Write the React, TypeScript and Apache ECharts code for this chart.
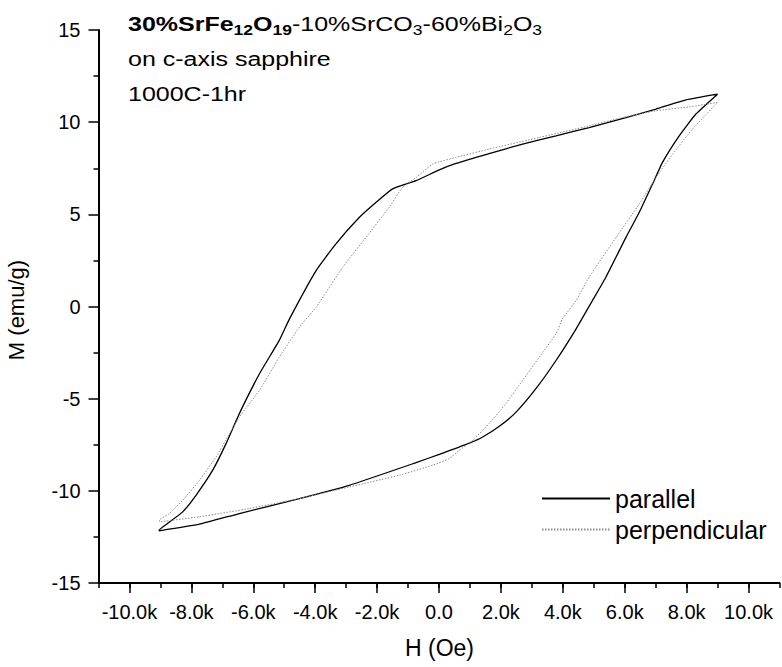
import React, { useEffect, useRef } from "react";
import * as echarts from "echarts";

// Parallel (solid) loop: descending branch (+9 kOe -> -9 kOe)
const parDescH = [9000, 7980, 7010, 6040, 4850, 3780, 2700, 1620, 550, 10, -740, -1500, -2030, -2570, -3330, -3970, -4830, -5160, -5800, -6450, -6880, -7310, -7850, -8280, -8770, -9040];
const parDescM = [11.52, 11.21, 10.71, 10.25, 9.71, 9.26, 8.81, 8.3, 7.76, 7.41, 6.83, 6.38, 5.65, 4.84, 3.4, 1.95, -0.67, -1.84, -3.65, -5.81, -7.44, -8.88, -10.24, -11.14, -11.77, -12.13];
// Parallel ascending branch (-9 kOe -> +9 kOe)
const parAscH = [-9040, -7740, -6450, -4510, -2900, -740, 10, 980, 1410, 1950, 2490, 3130, 3780, 4430, 4960, 5390, 6040, 6470, 6900, 7220, 7760, 8300, 9000];
const parAscM = [-12.17, -11.81, -11.23, -10.42, -9.7, -8.47, -8.02, -7.41, -7.08, -6.5, -5.73, -4.46, -2.93, -1.21, 0.33, 1.59, 3.75, 5.11, 6.65, 7.82, 9.26, 10.44, 11.52];

// Perpendicular (dotted) loop
const perpDescH = [9000, 8080, 7010, 5930, 4850, 3240, 1620, 550, 10, -210, -740, -1180, -1610, -2360, -3110, -3970, -4510, -5160, -5800, -6450, -6770, -7200, -7740, -8280, -8710, -9030];
const perpDescM = [11.07, 10.83, 10.62, 10.25, 9.8, 9.17, 8.54, 8.09, 7.85, 7.73, 7.0, 6.46, 5.38, 3.75, 2.13, -0.04, -1.12, -2.75, -4.55, -6.0, -6.9, -8.16, -9.43, -10.51, -11.23, -11.59];
const perpAscH = [-9030, -7740, -6130, -4510, -2900, -1280, -210, 330, 660, 1090, 1620, 2160, 2700, 3240, 3780, 3990, 4430, 4850, 5720, 6470, 7010, 7550, 8190, 9000];
const perpAscM = [-11.68, -11.41, -10.96, -10.42, -9.79, -9.15, -8.61, -8.25, -7.8, -7.26, -6.35, -5.27, -4.01, -2.75, -1.48, -0.67, 0.33, 1.59, 3.75, 5.56, 7.0, 8.27, 9.63, 11.07];

const seriesNames = ["parallel", "perpendicular"];
const titleLines = ["on c-axis sapphire", "1000C-1hr"];
const axisTitles = { x: "H (Oe)", y: "M (emu/g)" };

const FONT = "'Liberation Sans', Arial, Helvetica, sans-serif";

function pairs(h: number[], m: number[]) {
  return h.map((v, i) => [v, m[i]]);
}

function fmtK(v: number) {
  if (v === 0) return "0.0";
  return (v / 1000).toFixed(1) + "k";
}

export default function App() {
  const ref = useRef<HTMLDivElement>(null);
  useEffect(() => {
    const chart = echarts.init(ref.current!, null, { renderer: "svg" });
    const axisLine = { color: "#000", width: 2 };
    const tickLine = { color: "#000", width: 1.5 };
    chart.setOption({
      animation: false,
      backgroundColor: "#fff",
      textStyle: { fontFamily: FONT },
      grid: [
        { left: 98.5, top: 30, width: 681, height: 553, containLabel: false, outerBoundsMode: "none" },
        { left: 129.45, top: 30, width: 619.1, height: 553, containLabel: false, outerBoundsMode: "none" },
      ],
      xAxis: [
        {
          gridIndex: 0,
          type: "value",
          min: -11000,
          max: 11000,
          interval: 1000,
          axisLine: { onZero: false, lineStyle: axisLine },
          axisTick: { length: 5, lineStyle: tickLine },
          axisLabel: { show: false },
          splitLine: { show: false },
        },
        {
          gridIndex: 1,
          type: "value",
          min: -10000,
          max: 10000,
          interval: 2000,
          axisLine: { show: false, onZero: false },
          axisTick: { length: 10, lineStyle: tickLine },
          axisLabel: { fontSize: 20, color: "#000", margin: 19, formatter: fmtK, fontFamily: FONT },
          splitLine: { show: false },
        },
      ],
      yAxis: [
        {
          gridIndex: 0,
          type: "value",
          min: -15,
          max: 15,
          interval: 5,
          axisLine: { show: true, onZero: false, lineStyle: axisLine },
          axisTick: { show: true, length: 10, lineStyle: tickLine },
          minorTick: { show: true, splitNumber: 2, length: 5, lineStyle: tickLine },
          axisLabel: { fontSize: 20, color: "#000", margin: 18, fontFamily: FONT },
          splitLine: { show: false },
          minorSplitLine: { show: false },
        },
        { gridIndex: 1, type: "value", show: false, min: 0, max: 1 },
      ],
      legend: {
        orient: "vertical",
        left: 536,
        top: 481,
        itemWidth: 68,
        itemHeight: 14,
        itemGap: 6,
        padding: 5,
        itemStyle: { opacity: 0 },
        textStyle: { fontSize: 25, color: "#000", fontFamily: FONT },
        data: seriesNames,
      },
      graphic: [
        {
          type: "text",
          x: 128,
          y: 24.8,
          scaleX: 1.25,
          style: {
            text: "{b|30%SrFe}{bs|12}{b|O}{bs|19}{n|-10%SrCO}{s|3}{n|-60%Bi}{s|2}{n|O}{s|3}",
            align: "left",
            verticalAlign: "middle",
            fill: "#000",
            fontFamily: FONT,
            rich: {
              b: { fontSize: 20, fontWeight: "bold", lineHeight: 24, fontFamily: FONT, fill: "#000" },
              bs: { fontSize: 14, fontWeight: "bold", lineHeight: 10, verticalAlign: "bottom", fontFamily: FONT, fill: "#000" },
              n: { fontSize: 20, lineHeight: 24, fontFamily: FONT, fill: "#000" },
              s: { fontSize: 14, lineHeight: 10, verticalAlign: "bottom", fontFamily: FONT, fill: "#000" },
            },
          },
        },
        {
          type: "text",
          x: 128,
          y: 59.8,
          scaleX: 1.25,
          style: { text: titleLines[0], fontSize: 20, fontFamily: FONT, fill: "#000", align: "left", verticalAlign: "middle" },
        },
        {
          type: "text",
          x: 128,
          y: 94.8,
          scaleX: 1.25,
          style: { text: titleLines[1], fontSize: 20, fontFamily: FONT, fill: "#000", align: "left", verticalAlign: "middle" },
        },
        {
          type: "text",
          x: 439.5,
          y: 648,
          style: { text: axisTitles.x, fontSize: 23, fontFamily: FONT, fill: "#000", align: "center", verticalAlign: "middle" },
        },
        {
          type: "text",
          x: 16,
          y: 310,
          rotation: Math.PI / 2,
          style: { text: axisTitles.y, fontSize: 22, fontFamily: FONT, fill: "#000", align: "center", verticalAlign: "middle" },
        },
      ],
      series: [
        {
          type: "line",
          name: seriesNames[0],
          xAxisIndex: 0,
          yAxisIndex: 0,
          data: pairs(parDescH, parDescM).concat(pairs(parAscH, parAscM)),
          showSymbol: false,
          symbol: "none",
          smooth: 0.15,
          lineStyle: { color: "#000", width: 1.3 },
          itemStyle: { color: "#000" },
        },
        {
          type: "line",
          name: seriesNames[1],
          xAxisIndex: 0,
          yAxisIndex: 0,
          data: pairs(perpDescH, perpDescM).concat(pairs(perpAscH, perpAscM)),
          showSymbol: false,
          symbol: "none",
          smooth: 0.15,
          lineStyle: { color: "#8c8c8c", width: 1, type: [1.5, 1.5] },
          itemStyle: { color: "#8c8c8c" },
        },
      ],
    });
    return () => chart.dispose();
  }, []);
  return (
    <div
      ref={ref}
      style={{ position: "fixed", left: 0, top: 0, width: 782, height: 667, background: "#fff" }}
    />
  );
}
